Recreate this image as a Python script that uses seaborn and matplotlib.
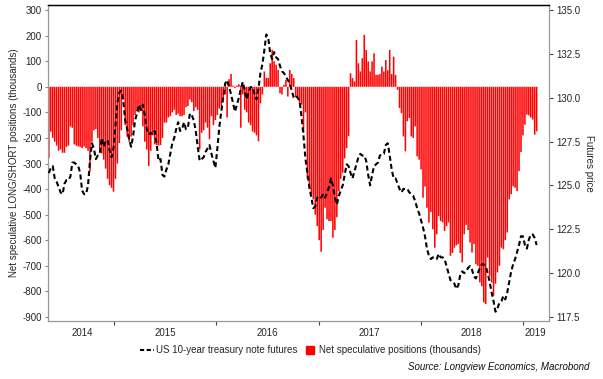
import numpy as np
import pandas as pd
import matplotlib
matplotlib.use("Agg")
import matplotlib.pyplot as plt
import matplotlib.dates as mdates
import seaborn as sns
from matplotlib.lines import Line2D
from matplotlib.ticker import FixedLocator, NullFormatter, FuncFormatter

# ---------------- data ----------------
weeks = pd.date_range("2014-05-13", periods=250, freq="7D")

net_positions = [
    -278, -175, -200, -215, -230, -250, -245, -258, -258, -235,
    -230, -155, -160, -225, -230, -233, -235, -240, -233, -240,
    -250, -330, -215, -170, -165, -200, -250, -260, -285, -320,
    -360, -385, -395, -410, -360, -300, -220, -170, -50, -150,
    -195, -215, -195, -150, -110, -95, -100, -95, -155, -215,
    -245, -310, -250, -190, -225, -228, -230, -228, -200, -140,
    -140, -120, -115, -100, -90, -110, -105, -115, -115, -110,
    -80, -75, -50, -60, -95, -80, -90, -245, -180, -170,
    -140, -160, -205, -115, -150, -130, -110, -85, -75, -50,
    -30, -120, 30, 50, 5, -5, 5, 10, -160, -30,
    -90, -100, -140, -150, -175, -180, -190, -213, -65, -30,
    60, 35, 35, 92, 145, 100, 86, 66, -25, -30,
    8, 27, -38, 66, 50, 34, -40, -45, -65, -70,
    -180, -100, -360, -400, -420, -440, -500, -545, -600, -645,
    -560, -473, -518, -525, -525, -590, -560, -510, -408, -360,
    -336, -280, -240, -193, 53, 34, 21, 183, 92, 60,
    112, 203, 144, 99, 60, 99, 131, 47, 47, 50,
    79, 60, 105, 65, 144, 50, 118, 47, -12, -83,
    -103, -194, -252, -135, -122, -194, -200, -155, -272, -285,
    -323, -434, -390, -473, -531, -490, -557, -629, -577, -505,
    -525, -530, -564, -545, -530, -661, -650, -629, -620, -615,
    -650, -687, -577, -540, -560, -609, -648, -615, -694, -700,
    -765, -780, -843, -850, -668, -739, -765, -817, -770, -726,
    -700, -629, -635, -600, -570, -440, -420, -389, -395, -408,
    -330, -255, -190, -148, -109, -112, -120, -128, -187, -174,
]

futures_price = [
    125.7, 126.0, 126.1, 125.4, 125.2, 124.9, 124.6, 124.5, 125.1, 125.3,
    125.3, 125.5, 126.3, 126.3, 126.2, 126.1, 125.7, 124.7, 124.5, 124.5,
    125.0, 126.4, 127.4, 127.1, 126.5, 126.7, 126.8, 127.7, 127.2, 127.5,
    127.6, 127.0, 126.6, 127.1, 128.4, 129.7, 130.3, 130.4, 129.8, 128.7,
    128.2, 127.6, 127.2, 127.8, 128.7, 129.1, 129.6, 129.3, 129.6, 129.0, 128.2,
    127.9, 128.0, 127.9, 128.1, 127.4, 126.4, 126.5, 125.6, 125.5, 125.9,
    126.2, 126.8, 127.4, 127.7, 128.2, 128.6, 128.1, 128.2, 128.6, 128.2,
    128.3, 129.1, 129.0, 128.7, 128.1, 127.2, 126.4, 126.5, 126.6, 126.9,
    127.1, 127.3, 126.8, 126.4, 126.0, 127.1, 128.3, 129.2, 130.0, 130.8,
    131.0, 130.6, 130.2, 129.7, 129.2, 129.6, 130.0, 130.5, 130.9, 130.4, 129.9,
    130.3, 130.6, 130.6, 130.2, 129.9, 130.5, 131.4, 131.9, 132.7, 133.6,
    133.4, 132.5, 132.2, 132.6, 132.3, 132.2, 131.8, 131.5, 131.4, 131.2,
    131.0, 130.8, 130.4, 130.0, 130.1, 130.0, 129.8, 128.9, 127.8, 126.5,
    125.7, 124.9, 124.3, 123.7, 123.8, 124.3, 124.4, 124.3, 124.5, 124.3,
    124.6, 124.9, 125.4, 125.0, 124.3, 123.9, 124.4, 124.7, 125.0, 125.6, 126.2,
    126.1, 125.7, 125.4, 125.8, 126.2, 126.6, 126.8, 126.7, 126.7, 126.4,
    125.6, 125.0, 125.6, 126.1, 126.2, 126.3, 126.7, 126.8, 126.8, 127.3,
    127.4, 126.7, 125.9, 125.4, 125.4, 125.1, 124.8, 124.6, 124.8, 124.8,
    124.8, 124.6, 124.5, 124.4, 124.1, 123.7, 123.4, 123.0, 122.6, 122.1,
    121.4, 121.0, 120.8, 120.9, 120.8, 120.8, 121.1, 120.9, 120.9, 120.8, 120.4,
    120.0, 119.6, 119.5, 119.4, 119.1, 119.3, 119.9, 120.1, 120.0, 120.1,
    120.3, 120.4, 120.2, 119.8, 119.7, 120.0, 120.3, 120.5, 120.5, 120.4,
    120.0, 119.5, 118.9, 118.4, 117.8, 118.0, 118.3, 118.4, 118.7, 118.5,
    118.9, 119.5, 120.1, 120.5, 120.8, 121.2, 121.6, 122.1, 122.1, 121.6,
    121.4, 121.9, 122.2, 122.2, 122.0, 121.6,
]

year_labels = ["2014", "2015", "2016", "2017", "2018", "2019"]
year_label_dates = ["2014-09-08", "2015-07-02", "2016-07-02", "2017-07-02",
                    "2018-07-02", "2019-02-16"]
year_tick_dates = ["2015-01-01", "2016-01-01", "2017-01-01", "2018-01-01", "2019-01-01"]
left_ticks = list(range(-900, 301, 100))
right_ticks = [117.5, 120.0, 122.5, 125.0, 127.5, 130.0, 132.5, 135.0]

line_label = "US 10-year treasury note futures"
bar_label = "Net speculative positions (thousands)"
left_ylabel = "Net speculative LONG/SHORT positions (thousands)"
right_ylabel = "Futures price"
source_text = "Source: Longview Economics, Macrobond"

# ---------------- style ----------------
sns.set_style("white")
plt.rcParams["font.family"] = ["Liberation Sans", "DejaVu Sans"]

xnum = mdates.date2num(weeks.to_pydatetime())
df = pd.DataFrame({"x": xnum, "net": net_positions, "price": futures_price})

fig = plt.figure(figsize=(6.03, 3.79), dpi=100)
ax = fig.add_axes([0.0796, 0.153, 0.9104 - 0.0796, 0.9868 - 0.153])

sns.barplot(data=df, x="x", y="net", native_scale=True, color="#ff0000",
            saturation=1, linewidth=0, edgecolor="none", errorbar=None,
            width=0.8, ax=ax)
for p in ax.patches:
    p.set_edgecolor("none")
    p.set_linewidth(0)
    p.set_snap(False)

ax2 = ax.twinx()
sns.lineplot(data=df, x="x", y="price", ax=ax2, color="black",
             linewidth=1.5, linestyle=(0, (2.4, 1.5)))

ax.set_xlim(mdates.date2num(pd.Timestamp("2014-05-10")),
            mdates.date2num(pd.Timestamp("2019-04-04")))
ax.set_ylim(-916, 320)
ax2.set_ylim(117.27, 135.28)

ax.set_yticks(left_ticks)
ax.yaxis.set_major_formatter(FuncFormatter(lambda v, p: f"{int(v)}"))
ax2.set_yticks(right_ticks)
ax2.yaxis.set_major_formatter(FuncFormatter(lambda v, p: f"{v:.1f}"))

major = [mdates.date2num(pd.Timestamp(d)) for d in year_tick_dates]
minor = [mdates.date2num(pd.Timestamp(d)) for d in year_label_dates]
ax.xaxis.set_major_locator(FixedLocator(major))
ax.xaxis.set_major_formatter(NullFormatter())
ax.set_xticks(minor, year_labels, minor=True)

ax.tick_params(axis="x", which="major", direction="out", length=3, width=0.8,
               color="#444444", bottom=True)
ax.tick_params(axis="x", which="minor", length=0, labelsize=7, pad=5)
ax.tick_params(axis="y", direction="out", length=2.5, width=0.8, color="#888888",
               labelsize=7, pad=2, left=True)
ax2.tick_params(axis="y", direction="out", length=3, width=0.8, color="#444444",
                labelsize=7, pad=2, right=True)

ax.set_xlabel("")
ax2.set_xlabel("")
ax.set_ylabel(left_ylabel, fontsize=7, labelpad=2)
ax2.set_ylabel(right_ylabel, fontsize=7, rotation=270, labelpad=10)

for a in (ax, ax2):
    for s in a.spines.values():
        s.set_linewidth(0.9)
ax.spines["left"].set_color("#999999")
ax.spines["bottom"].set_color("#999999")
ax.spines["top"].set_color("black")
ax.spines["right"].set_visible(False)
ax2.spines["right"].set_color("#999999")
ax2.spines["left"].set_visible(False)
ax2.spines["bottom"].set_visible(False)
ax2.spines["top"].set_color("black")
ax.grid(False)
ax2.grid(False)

handles = [
    Line2D([0], [0], color="black", linewidth=1.5, linestyle=(0, (2.0, 1.2))),
    Line2D([0], [0], color="#ff0000", marker="s", markersize=5.5, linestyle="none"),
]
fig.legend(handles, [line_label, bar_label], loc="center", ncol=2,
           bbox_to_anchor=(0.515, 0.076), frameon=False, fontsize=7,
           handlelength=1.4, handletextpad=0.2, columnspacing=0.6)

fig.text(0.978, 0.032, source_text, ha="right", va="center", fontsize=7,
         style="italic", color="#111111")

fig.savefig("out.png", dpi=100)
